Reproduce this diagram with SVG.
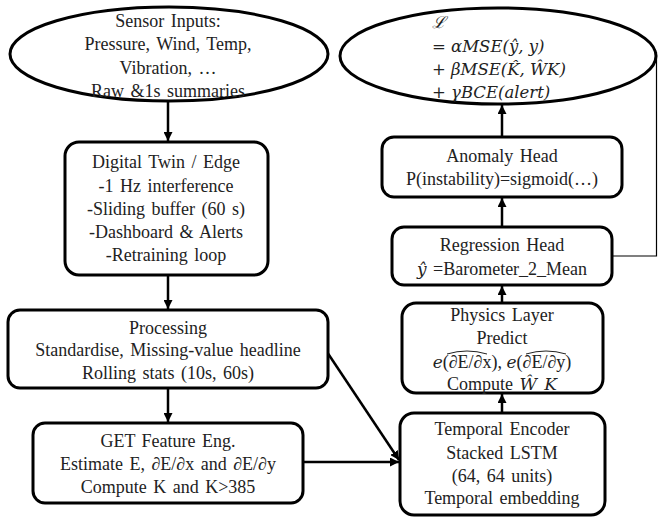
<svg xmlns="http://www.w3.org/2000/svg" width="658" height="518" viewBox="0 0 658 518">
<style>
.box{fill:#fff;stroke:#000;stroke-width:3}
.ell{fill:#fff;stroke:#000;stroke-width:3}
.t{font-family:"Liberation Serif","Times New Roman",serif;font-size:18px;word-spacing:2px;fill:#222;text-anchor:middle}
.m{font-family:"DejaVu Serif","Liberation Serif",serif;font-style:italic;font-size:16.5px;fill:#222}
.mi{font-family:"DejaVu Serif","Liberation Serif",serif;font-style:italic;font-size:17px}
.c{stroke:#000;stroke-width:2.5;fill:none}
.thin{stroke:#000;stroke-width:1.2;fill:none}
.hat{stroke:#222;stroke-width:1;fill:none}
</style>
<defs>
<marker id="ah" viewBox="0 0 10 10" refX="10" refY="5" markerWidth="9" markerHeight="9" markerUnits="userSpaceOnUse" orient="auto">
<path d="M0,0 L10,5 L0,10 z" fill="#000"/>
</marker>
</defs>
<g id="connectors">
<line class="c" x1="168" y1="101" x2="168" y2="141" marker-end="url(#ah)"/>
<line class="c" x1="168" y1="276" x2="168" y2="309" marker-end="url(#ah)"/>
<line class="c" x1="168" y1="389" x2="168" y2="422" marker-end="url(#ah)"/>
<line class="c" x1="303" y1="462" x2="399" y2="462" marker-end="url(#ah)"/>
<line class="c" x1="327" y1="352" x2="399" y2="460" marker-end="url(#ah)"/>
<line class="c" x1="502" y1="413" x2="502" y2="394" marker-end="url(#ah)"/>
<line class="c" x1="502" y1="303" x2="502" y2="286" marker-end="url(#ah)"/>
<line class="c" x1="502" y1="227" x2="502" y2="198" marker-end="url(#ah)"/>
<line class="c" x1="502" y1="137" x2="502" y2="105" marker-end="url(#ah)"/>
<polyline class="thin" points="612,256 656.5,256 656.5,52"/>
</g>
<g id="sensor">
<ellipse class="ell" cx="169" cy="54" rx="159" ry="47"/>
<text class="t" x="168" y="27">Sensor Inputs:</text>
<text class="t" x="168" y="50">Pressure, Wind, Temp,</text>
<text class="t" x="168" y="74">Vibration, …</text>
<text class="t" x="168" y="97">Raw &amp;1s summaries</text>
</g>
<g id="digital-twin">
<rect class="box" x="65" y="142" width="203" height="133" rx="14"/>
<text class="t" x="166" y="168">Digital Twin / Edge</text>
<text class="t" x="166" y="192">-1 Hz interference</text>
<text class="t" x="166" y="215">-Sliding buffer (60 s)</text>
<text class="t" x="166" y="238">-Dashboard &amp; Alerts</text>
<text class="t" x="166" y="261">-Retraining loop</text>
</g>
<g id="processing">
<rect class="box" x="8" y="310" width="320" height="78" rx="12"/>
<text class="t" x="168" y="334">Processing</text>
<text class="t" x="168" y="356">Standardise, Missing-value headline</text>
<text class="t" x="168" y="379">Rolling stats (10s, 60s)</text>
</g>
<g id="get">
<rect class="box" x="33" y="423" width="270" height="80" rx="12"/>
<text class="t" x="168" y="447">GET Feature Eng.</text>
<text class="t" x="168" y="470">Estimate E, ∂E/∂x and ∂E/∂y</text>
<text class="t" x="168" y="493">Compute K and K&gt;385</text>
</g>
<g id="temporal">
<rect class="box" x="400" y="413" width="205" height="102" rx="14"/>
<text class="t" x="502" y="435">Temporal Encoder</text>
<text class="t" x="502" y="459">Stacked LSTM</text>
<text class="t" x="502" y="482">(64, 64 units)</text>
<text class="t" x="502" y="504">Temporal embedding</text>
</g>
<g id="physics">
<rect class="box" x="402" y="303" width="201" height="90" rx="14"/>
<text class="t" x="502" y="321">Physics Layer</text>
<text class="t" x="502" y="344">Predict</text>
<text class="t" x="502" y="368" style="word-spacing:0"><tspan class="mi">e</tspan>(∂E/∂x), <tspan class="mi">e</tspan>(∂E/∂y)</text>
<path class="hat" d="M447,354 Q467,348 487,354"/>
<path class="hat" d="M526,354 Q546,348 566,354"/>
<text class="t" x="502" y="390">Compute <tspan class="mi">Ŵ K</tspan></text>
</g>
<g id="regression">
<rect class="box" x="392" y="227" width="220" height="58" rx="12"/>
<text class="t" x="502" y="251">Regression Head</text>
<text class="t" x="502" y="275"><tspan class="mi">ŷ</tspan> =Barometer_2_Mean</text>
</g>
<g id="anomaly">
<rect class="box" x="382" y="137" width="240" height="60" rx="12"/>
<text class="t" x="502" y="162">Anomaly Head</text>
<text class="t" x="502" y="185">P(instability)=sigmoid(…)</text>
</g>
<g id="loss">
<ellipse class="ell" cx="498" cy="56" rx="158" ry="48"/>
<text class="m" x="432" y="28">ℒ</text>
<text class="m" x="432" y="52">= αMSE(ŷ, y)</text>
<text class="m" x="432" y="75">+ βMSE(K̂, ŴK)</text>
<text class="m" x="432" y="98">+ γBCE(alert)</text>
</g>
</svg>
